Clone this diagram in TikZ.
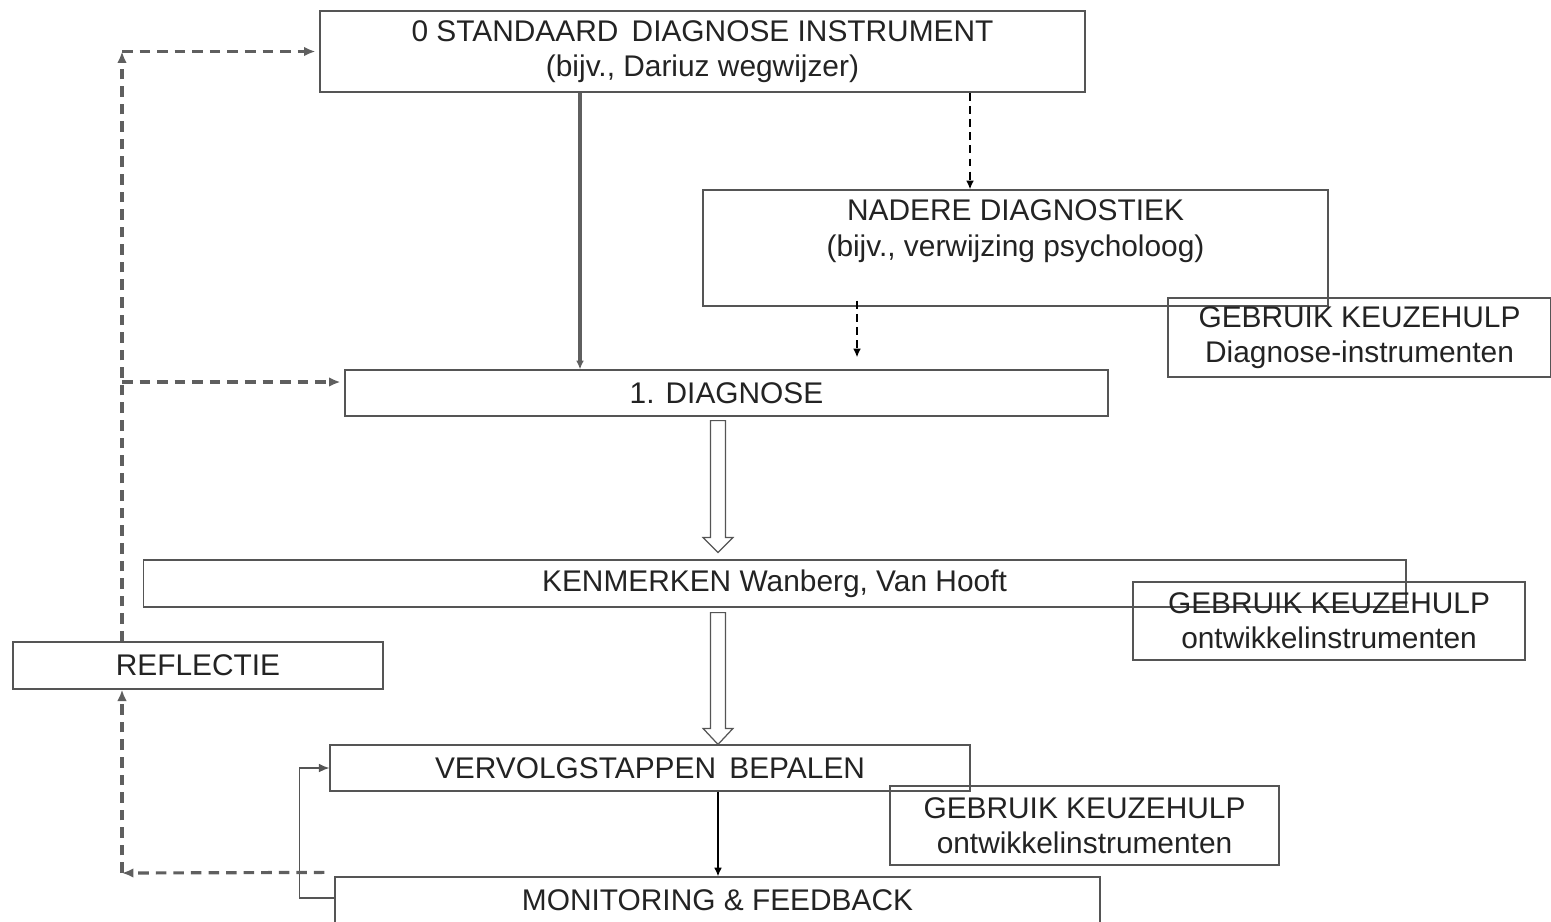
\documentclass[tikz,border=0pt]{standalone}
\usepackage{fontspec}
\setmainfont{Liberation Sans}
\usetikzlibrary{arrows.meta,calc}
\definecolor{line_gray}{RGB}{85,85,85}
\definecolor{rail_gray}{RGB}{95,95,95}
\definecolor{text_black}{RGB}{35,35,35}

\begin{document}
\begin{tikzpicture}[x=0.02cm,y=-0.02cm,
	box/.style={draw=line_gray,line width=0.7pt,text=text_black,align=center,inner sep=0pt,font=\fontsize{17}{20}\selectfont},
	dashflow/.style={draw=rail_gray,line width=1.8pt,dash pattern=on 6pt off 4pt,-{Latex[length=6.5pt,width=5.5pt]}},
	thinflow/.style={draw=black,line width=1pt,dash pattern=on 4.5pt off 3pt,-{Latex[length=5pt,width=4.5pt]}},
	mainflow/.style={draw=rail_gray,line width=2pt,-{Latex[length=5pt,width=4.5pt]}},
	stepflow/.style={draw=black,line width=0.9pt,-{Latex[length=5pt,width=4.5pt]}},
	loopflow/.style={draw=line_gray,line width=0.8pt,-{Latex[length=6pt,width=5pt]}},
	hollow/.style={draw=line_gray,line width=0.7pt,fill=white}]
	\useasboundingbox (0,0) rectangle (1551,921);

	% boxes
	\node[box,minimum width=15.3cm,minimum height=1.62cm] (std) at (702.5,51.5) {0 STANDAARD\, DIAGNOSE INSTRUMENT\\(bijv., Dariuz wegwijzer)};
	\node[box,minimum width=12.5cm,minimum height=2.32cm] (nadere) at (1015.5,248) {};
	\node[box,draw=none,anchor=north] (naderetxt) at ($(nadere.north)+(0,10)$) {NADERE DIAGNOSTIEK\\(bijv., verwijzing psycholoog)};
	\node[box,minimum width=7.66cm,minimum height=1.58cm] (keuze1) at (1359.5,337.5) {GEBRUIK KEUZEHULP\\Diagnose-instrumenten};
	\node[box,minimum width=15.26cm,minimum height=0.92cm] (diag) at (726.5,393) {1. DIAGNOSE};
	\node[box,minimum width=25.26cm,minimum height=0.94cm] (kenm) at (774.5,583.5) {KENMERKEN Wanberg, Van Hooft};
	\node[box,minimum width=7.84cm,minimum height=1.56cm] (keuze2) at (1329,621) {GEBRUIK KEUZEHULP\\ontwikkelinstrumenten};
	\node[box,minimum width=7.4cm,minimum height=0.94cm] (refl) at (198,665.5) {REFLECTIE};
	\node[box,minimum width=12.8cm,minimum height=0.92cm] (vervolg) at (650,768) {VERVOLGSTAPPEN\, BEPALEN};
	\node[box,minimum width=7.78cm,minimum height=1.58cm] (keuze3) at (1084.5,825.5) {GEBRUIK KEUZEHULP\\ontwikkelinstrumenten};
	\node[box,minimum width=15.3cm,minimum height=0.92cm] (mon) at (717.5,900) {MONITORING \& FEEDBACK};

	% columns for the connectors
	\coordinate (rail) at (122,0);
	\coordinate (axis) at (718,0);
	\coordinate (maincol) at (580,0);
	\coordinate (nadcol) at (970,0);
	\coordinate (diagcol) at (857,0);

	% connectors
	\draw[mainflow] (maincol |- std.south) -- (maincol |- diag.north);
	\draw[thinflow] (nadcol |- std.south) -- (nadcol |- nadere.north);
	\draw[thinflow] ($(diagcol |- nadere.south)+(0,-6)$) -- ($(diagcol |- diag.north)+(0,-12)$);
	\draw[stepflow] (axis |- vervolg.south) -- (axis |- mon.north);
	\draw[loopflow] ($(mon.west)+(0,-2)$) -- ++(-35,0) |- (vervolg.west);

	% block arrows
	\draw[hollow] ($(axis |- diag.south)+(-7.5,4)$) -- ($(axis |- kenm.north)+(-7.5,-22)$) -- ++(-7.5,0) -- ($(axis |- kenm.north)+(0,-7)$) -- ($(axis |- kenm.north)+(15,-22)$) -- ++(-7.5,0) -- ($(axis |- diag.south)+(7.5,4)$) -- cycle;
	\draw[hollow] ($(axis |- kenm.south)+(-7.5,5)$) -- ($(axis |- vervolg.north)+(-7.5,-16)$) -- ++(-7.5,0) -- ($(axis |- vervolg.north)+(0,0)$) -- ($(axis |- vervolg.north)+(15,-16)$) -- ++(-7.5,0) -- ($(axis |- kenm.south)+(7.5,5)$) -- cycle;

	% reflection rail
	\coordinate (railtop) at (rail |- std.west);
	\coordinate (railbot) at (122,873);
	\coordinate (diagin) at ($(diag.west)+(-4,-11)$);
	\draw[dashflow] (rail |- refl.north) -- (railtop);
	\draw[dashflow] (railtop) -- ($(std.west)+(-4,0)$);
	\draw[dashflow] (rail |- diagin) -- (diagin);
	\draw[dashflow] ($(mon.north west)+(-10,-4)$) -- (railbot);
	\draw[dashflow] (railbot) -- (rail |- refl.south);
\end{tikzpicture}
\end{document}
